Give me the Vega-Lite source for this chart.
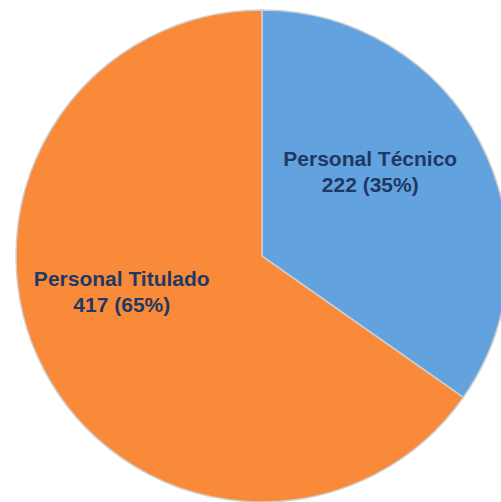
{
  "$schema": "https://vega.github.io/schema/vega-lite/v6.json",
  "autosize": {"type": "fit", "contains": "padding"},
  "width": 501,
  "height": 502,
  "padding": {"left": 23, "top": 10, "right": 0, "bottom": 0},
  "background": "white",
  "view": {"stroke": null},
  "data": {
    "values": [
      {"categoria": "Personal Técnico", "valor": 222, "orden": 1, "etiqueta": "Personal Técnico\n222 (35%)"},
      {"categoria": "Personal Titulado", "valor": 417, "orden": 2, "etiqueta": "Personal Titulado\n417 (65%)"}
    ]
  },
  "encoding": {
    "theta": {"field": "valor", "type": "quantitative", "stack": true},
    "order": {"field": "orden", "type": "quantitative"}
  },
  "layer": [
    {
      "mark": {"type": "arc", "outerRadius": 246, "stroke": "#d0d0d0", "strokeWidth": 1.5},
      "encoding": {
        "color": {
          "field": "categoria",
          "type": "nominal",
          "scale": {"domain": ["Personal Técnico", "Personal Titulado"], "range": ["#62A3DF", "#F98A3A"]},
          "legend": null
        }
      }
    },
    {
      "mark": {
        "type": "text",
        "radius": 140,
        "dx": -16,
        "dy": -31,
        "font": "Liberation Sans",
        "fontWeight": "bold",
        "fontSize": 21,
        "lineHeight": 26,
        "lineBreak": "\n",
        "color": "#1F3864",
        "align": "center",
        "baseline": "middle"
      },
      "encoding": {
        "text": {"field": "etiqueta", "type": "nominal"},
        "opacity": {
          "condition": {"test": "datum.orden == 1", "value": 1},
          "value": 0
        }
      }
    },
    {
      "mark": {
        "type": "text",
        "radius": 140,
        "dx": -16,
        "dy": -41,
        "font": "Liberation Sans",
        "fontWeight": "bold",
        "fontSize": 21,
        "lineHeight": 26,
        "lineBreak": "\n",
        "color": "#1F3864",
        "align": "center",
        "baseline": "middle"
      },
      "encoding": {
        "text": {"field": "etiqueta", "type": "nominal"},
        "opacity": {
          "condition": {"test": "datum.orden == 2", "value": 1},
          "value": 0
        }
      }
    }
  ]
}
